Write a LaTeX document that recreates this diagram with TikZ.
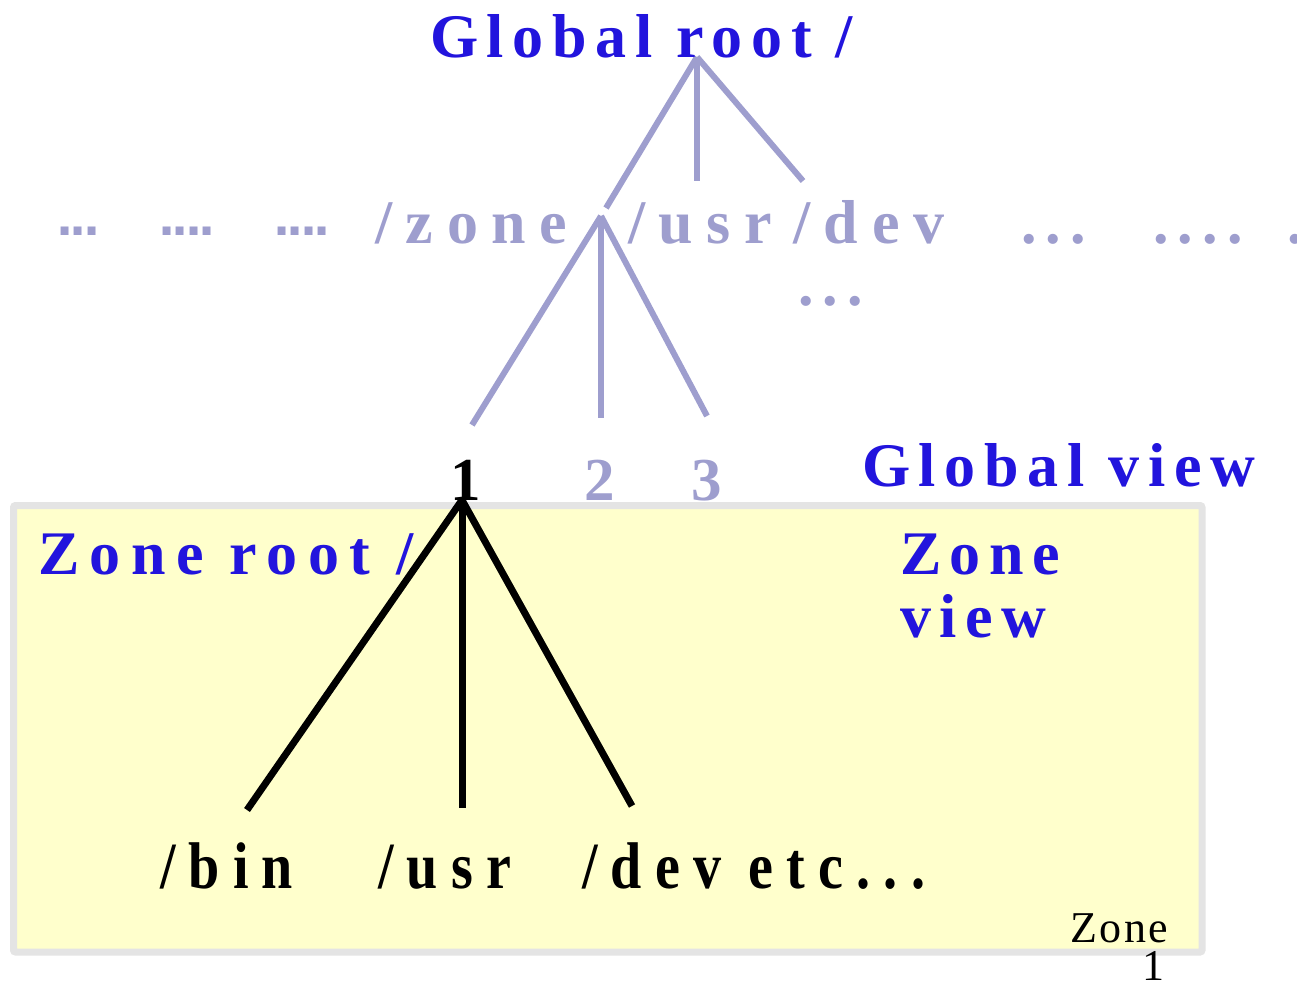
\documentclass[tikz,border=0pt]{standalone}
\usepackage{fontspec}
\setmainfont{Liberation Serif}
\newfontfamily\squaredots{DejaVu Sans Bold}

\definecolor{zblue}{RGB}{34,20,221}
\definecolor{lav}{RGB}{158,158,206}
\definecolor{zyellow}{RGB}{255,255,204}
\definecolor{zgray}{RGB}{228,228,228}

\tikzset{
  txt/.style={anchor=base west, inner sep=0pt, outer sep=0pt},
  bluehead/.style={txt, text=zblue,
    font=\fontsize{62}{70}\selectfont\bfseries\addfontfeature{LetterSpace=14}},
  zonehead/.style={txt, text=zblue,
    font=\fontsize{62}{70}\selectfont\bfseries\addfontfeature{LetterSpace=17}},
  lavname/.style={txt, text=lav,
    font=\fontsize{62}{70}\selectfont\bfseries\addfontfeature{LetterSpace=22}},
  lavdots/.style={txt, text=lav,
    font=\fontsize{62}{70}\selectfont\bfseries\addfontfeature{LetterSpace=15}},
  sqdots/.style={txt, text=lav,
    font=\fontsize{45}{50}\selectfont\squaredots\addfontfeature{LetterSpace=-8}},
  numlab/.style={txt, font=\fontsize{61}{66}\selectfont\bfseries},
  dirlab/.style={txt, text=black,
    font=\fontsize{66}{72}\selectfont\bfseries\addfontfeature{FakeStretch=0.85,LetterSpace=20}},
  smalllab/.style={anchor=base east, inner sep=0pt, text=black,
    font=\fontsize{44}{48}\selectfont\addfontfeature{LetterSpace=5}},
  lavline/.style={draw=lav, line width=6pt},
  blackline/.style={draw=black, line width=7pt},
  zonebox/.style={draw=zgray, fill=zyellow, line width=7pt, rounded corners=2pt}
}

\begin{document}
\begin{tikzpicture}[x=1pt,y=-1pt]
\useasboundingbox (0,0) rectangle (1297,983);

% the zone's own file system
\draw[zonebox] (13.5,505.5) rectangle (1202,952);

% global tree: branching points and branch ends
\coordinate (groot) at (697,57);
\coordinate (gzone) at (606,208);
\coordinate (gusr)  at (697,181);
\coordinate (gdev)  at (803,181);
\coordinate (zdir)  at (601,216);
\coordinate (z1)    at (472,425);
\coordinate (z2)    at (601,418);
\coordinate (z3)    at (707,416);

% zone tree
\coordinate (zroot) at (462,500);
\coordinate (zbin)  at (247,810);
\coordinate (zusr)  at (462,808);
\coordinate (zdev)  at (632,806);

\draw[lavline] (groot) -- (gzone);
\draw[lavline] (groot) -- (gusr);
\draw[lavline] (groot) -- (gdev);
\draw[lavline] (zdir) -- (z1);
\draw[lavline] (zdir) -- (z2);
\draw[lavline] (zdir) -- (z3);

\draw[blackline] (zroot) -- (zbin);
\draw[blackline] (zroot) -- (zusr);
\draw[blackline] (zroot) -- (zdev);

% headings
\node[bluehead] (globalroot) at (430,57) {Global root /};
\node[bluehead] (globalview) at (862,486) {Global view};
\node[zonehead] (zoneroot)   at (38,574)  {Zone root /};
\node[bluehead] (zoneview1)  at (900,574) {Zone};
\node[bluehead] (zoneview2)  at (900,637) {view};

% top-level directories
\node[sqdots] (sq1) at (56,235)  {...};
\node[sqdots] (sq2) at (158,235) {....};
\node[sqdots] (sq3) at (273,235) {....};
\node[lavname] (zone) at (375,243) {/zone};
\node[lavname] (usr)  at (628,243) {/usr};
\node[lavname] (dev)  at (793,243) {/dev};
\node[lavdots] (more1) at (1021,243) {...};
\node[lavdots] (more2) at (1153,243) {....};
\node[lavdots] (more3) at (1287,243) {.};
\node[lavdots] (more4) at (798,305) {...};

% zone numbers
\node[numlab, text=black] (n1) at (450,500) {1};
\node[numlab, text=lav]   (n2) at (584,500) {2};
\node[numlab, text=lav]   (n3) at (691,500) {3};

% zone directories
\node[dirlab] (bin)  at (160,888) {/bin};
\node[dirlab] (usrz) at (378,888) {/usr};
\node[dirlab] (devz) at (582,888) {/dev etc...};

% corner label
\node[smalllab] (zlab1) at (1168,942) {Zone};
\node[smalllab] (zlab2) at (1165,980) {1};
\end{tikzpicture}
\end{document}
